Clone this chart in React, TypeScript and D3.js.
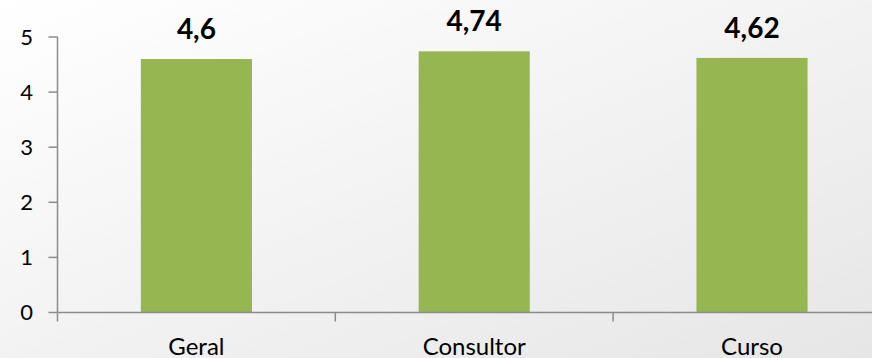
import React from "react";
import * as d3 from "d3";

const categories = ["Geral", "Consultor", "Curso"];
const values = [4.6, 4.74, 4.62];
const valueLabels = ["4,6", "4,74", "4,62"];
const yTicks = [0, 1, 2, 3, 4, 5];

const W = 872;
const H = 358;

export default function App() {
  const x0 = 57.5;
  const y = d3.scaleLinear().domain([0, 5]).range([312.5, 37]);
  const x = d3.scaleBand<string>().domain(categories).range([x0, x0 + 3 * 277.8]).paddingInner(0).paddingOuter(0);
  const bw = x.bandwidth() * 0.4;
  const font = "Lato, 'Open Sans', sans-serif";
  const axisColor = "#8c8c8c";
  return (
    <div style={{ position: "fixed", left: 0, top: 0, width: W, height: H }}>
      <svg width={W} height={H} style={{ display: "block" }}>
        <defs>
          <linearGradient id="bg" x1="0" y1="0" x2="1" y2="1">
            <stop offset="0" stopColor="#ffffff" />
            <stop offset="1" stopColor="#e6e6e6" />
          </linearGradient>
        </defs>
        <rect x={0} y={0} width={W} height={H} fill="url(#bg)" />
        {categories.map((c, i) => {
          const cx = (x(c) as number) + x.bandwidth() / 2;
          return (
            <g key={c}>
              <rect x={cx - bw / 2} y={y(values[i])} width={bw} height={y(0) - y(values[i])} fill="#95b651" />
              <text x={cx} y={y(values[i]) - 20} textAnchor="middle" fontFamily={font} fontWeight="bold" fontSize={28} fill="#000">
                {valueLabels[i]}
              </text>
              <text x={cx} y={355} textAnchor="middle" fontFamily={font} fontSize={24} fill="#000">
                {c}
              </text>
            </g>
          );
        })}
        <line x1={x0} x2={x0} y1={y(5)} y2={y(0)} stroke={axisColor} strokeWidth={1.5} />
        <line x1={x0} x2={W} y1={y(0)} y2={y(0)} stroke={axisColor} strokeWidth={1.5} />
        {yTicks.map((t) => (
          <g key={t}>
            <line x1={x0 - 9} x2={x0} y1={y(t)} y2={y(t)} stroke={axisColor} strokeWidth={1.5} />
            <text x={33} y={y(t)} dy="0.36em" textAnchor="end" fontFamily={font} fontSize={22} fill="#000">
              {t}
            </text>
          </g>
        ))}
        {categories.map((c) => (
          <line key={c} x1={x(c) as number} x2={x(c) as number} y1={y(0)} y2={y(0) + 9} stroke={axisColor} strokeWidth={1.5} />
        ))}
      </svg>
    </div>
  );
}
